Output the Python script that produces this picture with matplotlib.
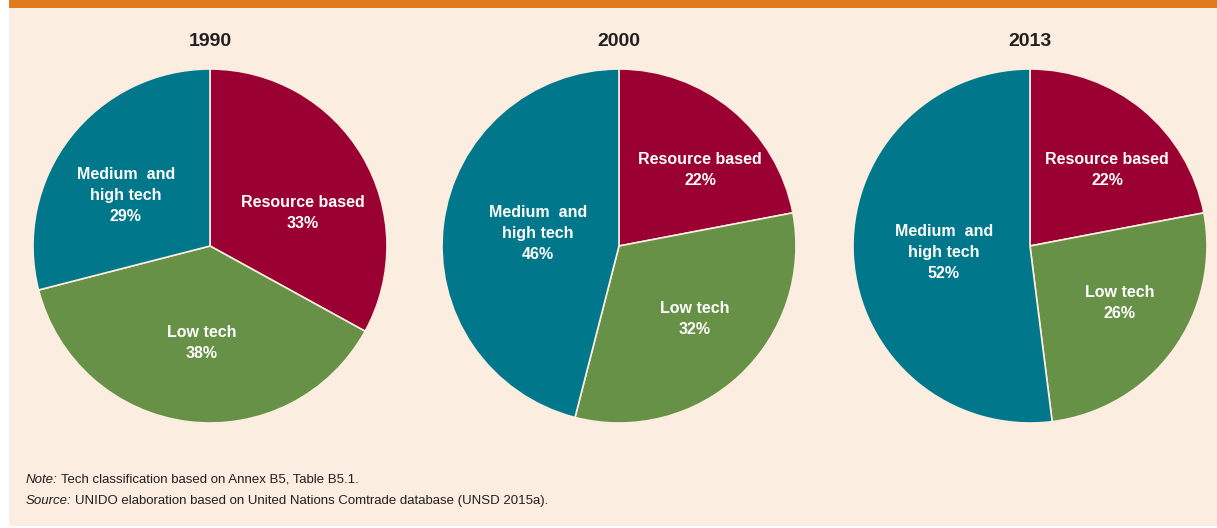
import matplotlib
matplotlib.use('Agg')
import matplotlib.pyplot as plt
import matplotlib.patches as patches

# datos
years = ['1990', '2000', '2013']
categories = ['Resource based', 'Low tech', 'Medium  and\nhigh tech']
resource_based = [33, 22, 22]
low_tech = [38, 32, 26]
medium_high = [29, 46, 52]

colors = ['#9A0032', '#679146', '#00778B']
bg = '#FBEDDF'
orange = '#E07A1F'
fuente = ['Liberation Sans Narrow', 'Liberation Sans', 'DejaVu Sans']

# posicion de las etiquetas dentro de cada pastel (unidades del radio)
pos_etiquetas = [
    [(0.525, 0.186), (-0.045, -0.548), (-0.475, 0.288)],
    [(0.458, 0.429), (0.429, -0.412), (-0.458, 0.073)],
    [(0.435, 0.429), (0.508, -0.322), (-0.486, -0.034)],
]

W, H = 1217, 528
fig = plt.figure(figsize=(W / 100, H / 100), dpi=100)
fig.patch.set_facecolor('white')

# fondo crema y barra naranja
fig.patches.append(patches.Rectangle((9 / W, 2 / H), 1 - 9 / W, (H - 10) / H,
                                     transform=fig.transFigure, facecolor=bg,
                                     edgecolor='none', zorder=-10))
fig.patches.append(patches.Rectangle((9 / W, 1 - 8 / H), 1 - 9 / W, 8 / H,
                                     transform=fig.transFigure, facecolor=orange,
                                     edgecolor='none', zorder=-9))

centros = [(210, 246), (619, 246), (1030, 246)]
r = 177

for i, year in enumerate(years):
    cx, cy = centros[i]
    ax = fig.add_axes([(cx - r) / W, 1 - (cy + r) / H, 2 * r / W, 2 * r / H])
    vals = [resource_based[i], low_tech[i], medium_high[i]]
    labels = ['%s\n%d%%' % (c, v) for c, v in zip(categories, vals)]
    wedges, texts = ax.pie(vals, labels=labels, colors=colors, startangle=90,
                           counterclock=False, labeldistance=0.57,
                           wedgeprops=dict(edgecolor=bg, linewidth=1.2),
                           textprops=dict(color='white', fontsize=11.5,
                                          fontweight='bold',
                                          family=fuente, ha='center',
                                          va='center', linespacing=1.5))
    for t, p in zip(texts, pos_etiquetas[i]):
        t.set_position(p)
    ax.set_xlim(-1, 1)
    ax.set_ylim(-1, 1)
    ax.set_aspect('equal')
    ax.patch.set_visible(False)
    fig.text(cx / W, 1 - 42 / H, year, ha='center', va='center',
             fontsize=14, fontweight='bold', color='#231F20', family=fuente)

# notas al pie (cursiva + texto normal)
notas = [('Note:', 'Tech classification based on Annex B5, Table B5.1.', 483),
         ('Source:', 'UNIDO elaboration based on United Nations Comtrade database (UNSD 2015a).', 504)]
renderer = fig.canvas.get_renderer()
for pre, txt, y in notas:
    t1 = fig.text(26 / W, 1 - y / H, pre, style='italic', fontsize=9.5,
                  color='#231F20', family=fuente, va='baseline')
    ext = t1.get_window_extent(renderer)
    fig.text((ext.x1 + 3) / W, 1 - y / H, txt, fontsize=9.5,
             color='#231F20', family=fuente, va='baseline')

fig.savefig('out.png', dpi=100)
